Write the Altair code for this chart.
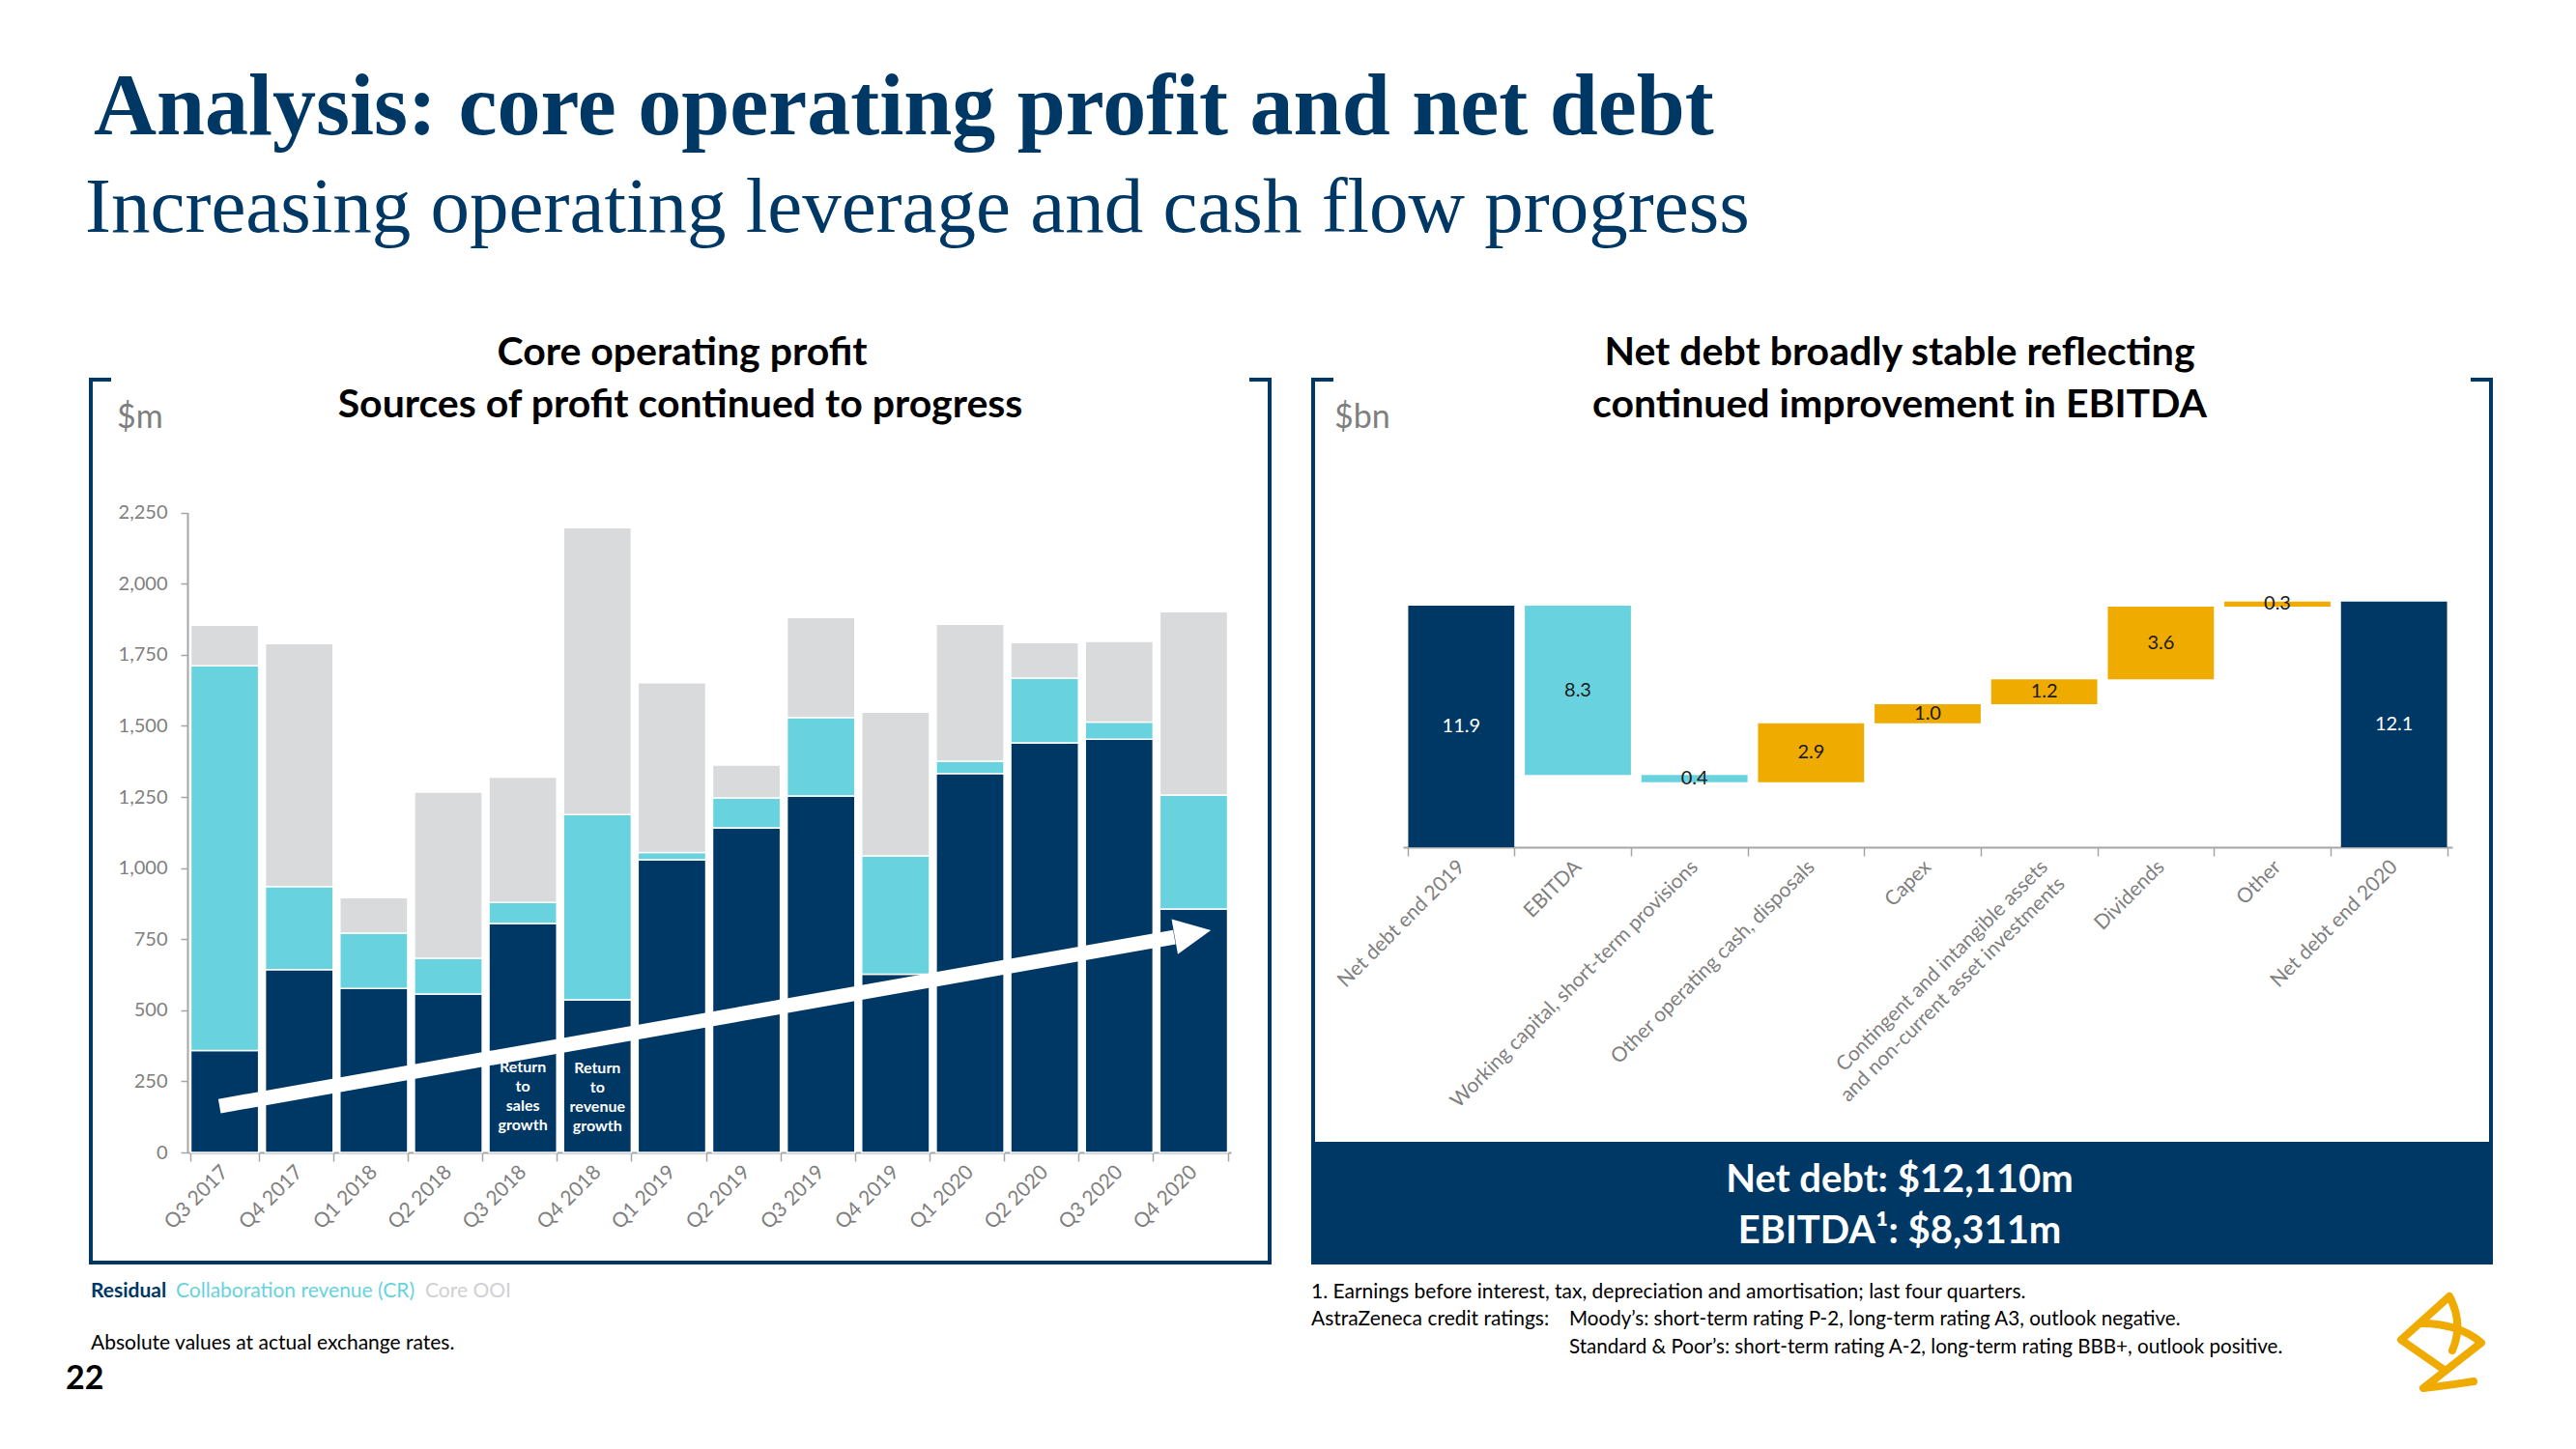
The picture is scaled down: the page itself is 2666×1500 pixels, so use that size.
import math
import altair as alt
import pandas as pd

# ---------------- canvas ----------------
W, H = 2650, 1484
OFF = 8


def X(v):
    return v - OFF


def Y(v):
    return v - OFF


NAVY = "#003865"
CYAN = "#68D2DF"
GREY = "#D9DADB"
GOLD = "#EFAB00"
AXIS_GREY = "#A6A6A6"
LABEL_GREY = "#7F7F7F"
FONT = "Lato"
SERIF = "Liberation Serif"

# ---------------- data: core operating profit ($m) ----------------
quarters = ["Q3 2017", "Q4 2017", "Q1 2018", "Q2 2018", "Q3 2018", "Q4 2018", "Q1 2019",
            "Q2 2019", "Q3 2019", "Q4 2019", "Q1 2020", "Q2 2020", "Q3 2020", "Q4 2020"]
residual = [358, 643, 577, 557, 805, 537, 1029, 1141, 1253, 627, 1332, 1440, 1453, 856]
collab = [1353, 292, 194, 126, 74, 651, 26, 106, 276, 416, 44, 228, 60, 401]
core_ooi = [143, 854, 125, 584, 441, 1009, 597, 115, 352, 505, 481, 125, 284, 644]
series_names = ["Residual", "Collaboration revenue (CR)", "Core OOI"]
y_ticks = [0, 250, 500, 750, 1000, 1250, 1500, 1750, 2000, 2250]

# arrow (in chart units: band index, $m)
arrow_pos = [0.43, 13.24]
arrow_val = [163, 757]
arrow_tip = (13.73, 781)

# in-bar annotations (value = first text line)
notes_q = ["Q3 2018", "Q4 2018"]
notes_txt = [["Return", "to", "sales", "growth"], ["Return", "to", "revenue", "growth"]]
notes_val = [299, 297]

# ---------------- data: net debt waterfall ($bn) ----------------
wf_cats = ["Net debt end 2019", "EBITDA", "Working capital, short-term provisions",
           "Other operating cash, disposals", "Capex",
           "Contingent and intangible assets|and non-current asset investments",
           "Dividends", "Other", "Net debt end 2020"]
wf_base = [0, 3.57, 3.21, 3.21, 6.11, 7.06, 8.29, 11.88, 0]
wf_top = [11.92, 11.92, 3.57, 6.11, 7.06, 8.29, 11.88, 12.12, 12.12]
wf_labels = ["11.9", "8.3", "0.4", "2.9", "1.0", "1.2", "3.6", "0.3", "12.1"]
wf_kind = ["total", "decrease", "decrease", "increase", "increase", "increase",
           "increase", "increase", "total"]

# ---------------- helpers ----------------
ONE = alt.Data(values=[{"k": 0}])


def txt(text, x, y, size, color="black", weight="normal", font=FONT, align="left",
        baseline="middle", line_height=None):
    kw = dict(text=text, font=font, fontSize=size, fontWeight=weight, color=color,
              align=align, baseline=baseline)
    if line_height:
        kw["lineHeight"] = line_height
    return alt.Chart(ONE).mark_text(**kw).encode(x=alt.value(X(x)), y=alt.value(Y(y)))


def rule(x1, y1, x2, y2, width=4, color=NAVY):
    return alt.Chart(ONE).mark_rule(color=color, strokeWidth=width).encode(
        x=alt.value(X(x1)), x2=alt.value(X(x2)), y=alt.value(Y(y1)), y2=alt.value(Y(y2)))


def rect(x1, y1, x2, y2, color=NAVY):
    return alt.Chart(ONE).mark_rect(color=color).encode(
        x=alt.value(X(x1)), x2=alt.value(X(x2)), y=alt.value(Y(y1)), y2=alt.value(Y(y2)))


layers = []

# ---------------- panel frames ----------------
LB = dict(l=94, r=1314, t=393, b=1307)
RB = dict(l=1359, r=2578, t=393, b=1307)
for B in (LB, RB):
    layers.append(rule(B["l"], B["t"] - 2, B["l"], B["b"] + 2))
    layers.append(rule(B["r"], B["t"] - 2, B["r"], B["b"] + 2))
    layers.append(rule(B["l"] - 2, B["t"], B["l"] + 21, B["t"]))
    layers.append(rule(B["r"] - 21, B["t"], B["r"] + 2, B["t"]))
    layers.append(rule(B["l"] - 2, B["b"], B["r"] + 2, B["b"]))
layers.append(rect(RB["l"], 1182, RB["r"] + 2, RB["b"] + 2))

# ---------------- left chart ----------------
L_X0, L_X1 = X(194), X(1274)
L_Y0 = Y(1193)
L_PX = 0.2944
L_DOM = [0, 2250]
L_YR = [L_Y0, L_Y0 - 2250 * L_PX]

rows = []
for i, q in enumerate(quarters):
    for k, vals in enumerate([residual, collab, core_ooi]):
        rows.append({"quarter": q, "series": series_names[k], "value": vals[i], "ord": k})
bars_df = pd.DataFrame(rows)


def lx_scale():
    return alt.Scale(domain=quarters, range=[L_X0, L_X1], paddingInner=0.09, paddingOuter=0.045)


def ly_scale():
    return alt.Scale(domain=L_DOM, range=L_YR, nice=False)


left_bars = alt.Chart(bars_df).mark_bar(stroke="white", strokeWidth=1.5).encode(
    x=alt.X("quarter:N", sort=quarters, scale=lx_scale(), title=None,
            axis=alt.Axis(orient="bottom", offset=L_Y0 - H, labelAngle=-45, labelAlign="right",
                          labelBaseline="middle", labelFont=FONT, labelFontSize=21,
                          labelColor=LABEL_GREY, labelPadding=8, labelOverlap=False,
                          labelLimit=0,
                          domainColor=AXIS_GREY, domainWidth=2, tickColor=AXIS_GREY,
                          tickWidth=1.5, tickSize=9, tickBand="extent", grid=False)),
    y=alt.Y("value:Q", stack="zero", scale=ly_scale(), title=None,
            axis=alt.Axis(orient="left", offset=-L_X0, values=y_ticks, format=",d",
                          labelFont=FONT, labelFontSize=20, labelColor=LABEL_GREY,
                          labelPadding=14, domainColor=AXIS_GREY, domainWidth=2,
                          tickColor=AXIS_GREY, tickWidth=1.5, tickSize=7, grid=False)),
    color=alt.Color("series:N", scale=alt.Scale(domain=series_names, range=[NAVY, CYAN, GREY]),
                    legend=None),
    order=alt.Order("ord:Q", sort="ascending"),
)
layers.append(left_bars)

# arrow
a_df = pd.DataFrame({"pos": arrow_pos, "val": arrow_val})
ax_scale = alt.Scale(domain=[0, len(quarters)], range=[L_X0, L_X1], nice=False, zero=False)
dx_px = (arrow_tip[0] - arrow_pos[0]) * (L_X1 - L_X0) / len(quarters)
dy_px = (arrow_tip[1] - arrow_val[0]) * L_PX
head_angle = 360 - math.degrees(math.atan2(dy_px, dx_px))
layers.append(alt.Chart(a_df).mark_line(color="white", strokeWidth=15, strokeCap="butt").encode(
    x=alt.X("pos:Q", scale=ax_scale, axis=None),
    y=alt.Y("val:Q", scale=ly_scale(), axis=None)))
tip_df = pd.DataFrame({"pos": [arrow_tip[0]], "val": [arrow_tip[1]]})
layers.append(alt.Chart(tip_df).mark_point(shape="M0,0L-2,-0.97L-2,0.97Z", filled=True, color="white",
                                           opacity=1, size=1444, angle=head_angle, strokeWidth=0).encode(
    x=alt.X("pos:Q", scale=ax_scale, axis=None),
    y=alt.Y("val:Q", scale=ly_scale(), axis=None)))

# in-bar notes
for q, t, v in zip(notes_q, notes_txt, notes_val):
    layers.append(alt.Chart(pd.DataFrame({"quarter": [q], "v": [v]})).mark_text(
        text=t, font=FONT, fontSize=16, fontWeight="bold", color="white", lineHeight=20,
        baseline="middle").encode(
        x=alt.X("quarter:N", sort=quarters, scale=lx_scale(), axis=None),
        y=alt.Y("v:Q", scale=ly_scale(), axis=None)))

# ---------------- right chart (waterfall) ----------------
R_X0, R_X1 = X(1452), X(2538)
R_Y0 = Y(877)
R_PX = 20.97
R_DOM = [0, 13]
R_YR = [R_Y0, R_Y0 - 13 * R_PX]
wf_df = pd.DataFrame({"cat": wf_cats, "base": wf_base, "top": wf_top,
                      "label": wf_labels, "kind": wf_kind})


def rx_scale():
    return alt.Scale(domain=wf_cats, range=[R_X0, R_X1], paddingInner=0.09, paddingOuter=0.045)


def ry_scale():
    return alt.Scale(domain=R_DOM, range=R_YR, nice=False)


wf_bars = alt.Chart(wf_df).mark_bar().encode(
    x=alt.X("cat:N", sort=wf_cats, scale=rx_scale(), title=None,
            axis=alt.Axis(orient="bottom", offset=R_Y0 - H, labelAngle=-45, labelAlign="right",
                          labelBaseline="middle", labelFont=FONT, labelFontSize=21,
                          labelColor=LABEL_GREY, labelPadding=8, labelOverlap=False,
                          labelLimit=0,
                          labelExpr="split(datum.label, '|')", labelLineHeight=25,
                          domainColor=AXIS_GREY, domainWidth=2, tickColor=AXIS_GREY,
                          tickWidth=1.5, tickSize=9, tickBand="extent", grid=False)),
    y=alt.Y("base:Q", scale=ry_scale(), axis=None),
    y2="top:Q",
    color=alt.Color("kind:N", scale=alt.Scale(domain=["total", "decrease", "increase"],
                                               range=[NAVY, CYAN, GOLD]), legend=None),
)
layers.append(wf_bars)
wf_text = alt.Chart(wf_df).transform_calculate(mid="(datum.base + datum.top) / 2").mark_text(
    font=FONT, fontSize=20, baseline="middle").encode(
    x=alt.X("cat:N", sort=wf_cats, scale=rx_scale(), axis=None),
    y=alt.Y("mid:Q", scale=ry_scale(), axis=None),
    text="label:N",
    color=alt.condition(alt.datum.kind == "total", alt.value("white"), alt.value("#1a1a1a")),
)
layers.append(wf_text)

# ---------------- texts ----------------
layers += [
    txt("Analysis: core operating profit and net debt", 97, 139, 90, NAVY, "bold", SERIF,
        baseline="alphabetic"),
    txt("Increasing operating leverage and cash flow progress", 88, 240, 81, NAVY, "normal", SERIF,
        baseline="alphabetic"),
    txt("Core operating profit", 706, 366, 41, "black", "bold", align="center"),
    txt("Sources of profit continued to progress", 704, 420, 41, "black", "bold", align="center"),
    txt("Net debt broadly stable reflecting", 1966, 366, 41, "black", "bold", align="center"),
    txt("continued improvement in EBITDA", 1966, 420, 41, "black", "bold", align="center"),
    txt("$m", 121, 433, 34, LABEL_GREY),
    txt("$bn", 1381, 433, 34, LABEL_GREY),
    txt("Net debt: $12,110m", 1966, 1222, 40, "white", "bold", align="center"),
    txt("EBITDA\u00b9: $8,311m", 1966, 1275, 40, "white", "bold", align="center"),
    txt("Residual", 94, 1337, 21, NAVY, "bold"),
    txt("Collaboration revenue (CR)", 182, 1337, 21, CYAN),
    txt("Core OOI", 440, 1337, 21, "#CFD1D2"),
    txt("Absolute values at actual exchange rates.", 94, 1391, 21, "black"),
    txt("22", 68, 1428, 34, "black", "bold"),
    txt("1. Earnings before interest, tax, depreciation and amortisation; last four quarters.",
        1357, 1338, 21, "black"),
    txt("AstraZeneca credit ratings:", 1357, 1366, 21, "black"),
    txt("Moody\u2019s: short-term rating P-2, long-term rating A3, outlook negative.", 1624, 1366, 20.6,
        "black"),
    txt("Standard & Poor\u2019s: short-term rating A-2, long-term rating BBB+, outlook positive.",
        1624, 1395, 20.6, "black"),
]

# logo (stylised)
logo_path = ("M15,-58 L-35,-13 L8,17 M15,-58 Q30,-30 18,-2 "
             "M-14,-30 Q25,-30 48,-10 L-12,37 Q15,34 40,30")
layers.append(alt.Chart(ONE).mark_point(shape=logo_path, size=4, filled=False, stroke=GOLD,
                                        strokeWidth=8, opacity=1, strokeCap="round",
                                        strokeJoin="round").encode(
    x=alt.value(X(2520)), y=alt.value(Y(1400))))

chart = alt.layer(*layers).resolve_scale(
    x="independent", y="independent", color="independent"
).properties(
    width=W, height=H, autosize=alt.AutoSizeParams(type="none"), padding=0,
    background="white"
).configure_view(stroke=None)

chart.save("out.html", embed_options={"renderer": "svg", "actions": False})
